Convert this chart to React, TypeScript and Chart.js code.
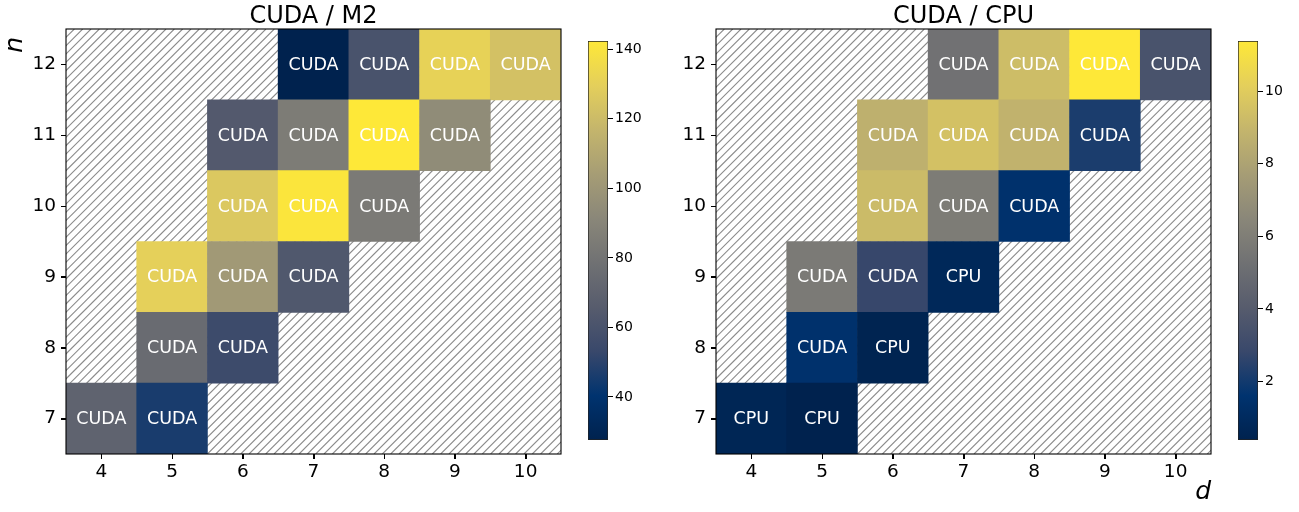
import React, { useEffect, useRef } from 'react';
import { Chart, registerables } from 'chart.js';

Chart.register(...registerables);

// ---- data ----
const dTicks = [4, 5, 6, 7, 8, 9, 10];
const nTicks = [7, 8, 9, 10, 11, 12];

// cell positions (same for both panels)
const cellD = [7, 8, 9, 10, 6, 7, 8, 9, 6, 7, 8, 5, 6, 7, 5, 6, 4, 5];
const cellN = [12, 12, 12, 12, 11, 11, 11, 11, 10, 10, 10, 9, 9, 9, 8, 8, 7, 7];

// CUDA / M2 panel
const m2Values = [27.6, 60, 131, 123, 64, 85, 142.4, 94, 126, 141, 84, 130, 102, 63, 75, 55, 70, 46];
const m2Labels = ['CUDA', 'CUDA', 'CUDA', 'CUDA', 'CUDA', 'CUDA', 'CUDA', 'CUDA', 'CUDA', 'CUDA', 'CUDA', 'CUDA', 'CUDA', 'CUDA', 'CUDA', 'CUDA', 'CUDA', 'CUDA'];
const m2CbarTicks = [40, 60, 80, 100, 120, 140];

// CUDA / CPU panel
const cpuValues = [5.3, 9.3, 11.38, 3.5, 8.7, 9.5, 8.8, 2.2, 9.2, 5.9, 1.5, 5.8, 2.8, 0.8, 1.5, 0.5, 0.65, 0.39];
const cpuLabels = ['CUDA', 'CUDA', 'CUDA', 'CUDA', 'CUDA', 'CUDA', 'CUDA', 'CUDA', 'CUDA', 'CUDA', 'CUDA', 'CUDA', 'CUDA', 'CPU', 'CUDA', 'CPU', 'CPU', 'CPU'];
const cpuCbarTicks = [2, 4, 6, 8, 10];

// ---- style ----
const FONT = 'DejaVu Sans';
const CIVIDIS = ['#00224e', '#00336f', '#39486b', '#575c6d', '#707173', '#8a8779', '#a69d75', '#c4b56c', '#e4cf5b', '#fee838'];

function hexToRgb(h: string) {
  return [parseInt(h.slice(1, 3), 16), parseInt(h.slice(3, 5), 16), parseInt(h.slice(5, 7), 16)];
}
function cividis(t: number) {
  const tt = Math.max(0, Math.min(1, t));
  const s = tt * (CIVIDIS.length - 1);
  const i = Math.min(CIVIDIS.length - 2, Math.floor(s));
  const f = s - i;
  const a = hexToRgb(CIVIDIS[i]);
  const b = hexToRgb(CIVIDIS[i + 1]);
  const c = a.map((v, k) => Math.round(v + (b[k] - v) * f));
  return `rgb(${c[0]},${c[1]},${c[2]})`;
}

type PanelProps = {
  title: string;
  values: number[];
  labels: string[];
  cbarTicks: number[];
  showN: boolean;
  showD: boolean;
  left: number;
  cbarLeft: number;
};

function Panel(p: PanelProps) {
  const heatRef = useRef<HTMLCanvasElement>(null);
  const cbarRef = useRef<HTMLCanvasElement>(null);

  useEffect(() => {
    const vmin = Math.min(...p.values);
    const vmax = Math.max(...p.values);
    const colors = p.values.map((v) => cividis((v - vmin) / (vmax - vmin)));

    const decor = {
      id: 'heatDecor',
      beforeDatasetsDraw(chart: any) {
        const { ctx, chartArea: ca } = chart;
        ctx.save();
        ctx.beginPath();
        ctx.rect(ca.left, ca.top, ca.right - ca.left, ca.bottom - ca.top);
        ctx.clip();
        ctx.fillStyle = '#ffffff';
        ctx.fillRect(ca.left, ca.top, ca.right - ca.left, ca.bottom - ca.top);
        ctx.strokeStyle = '#8c8c8c';
        ctx.lineWidth = 1.1;
        const H = ca.bottom - ca.top;
        const step = 8.33;
        ctx.beginPath();
        for (let x = ca.left - H - step; x < ca.right + step; x += step) {
          ctx.moveTo(x, ca.bottom);
          ctx.lineTo(x + H, ca.top);
        }
        ctx.stroke();
        ctx.restore();
      },
      afterDatasetsDraw(chart: any) {
        const { ctx, chartArea: ca, scales } = chart;
        ctx.save();
        ctx.fillStyle = '#ffffff';
        ctx.font = `17.5px "${FONT}"`;
        ctx.textAlign = 'center';
        ctx.textBaseline = 'middle';
        for (let i = 0; i < cellD.length; i++) {
          ctx.fillText(p.labels[i], scales.x.getPixelForValue(cellD[i]), scales.y.getPixelForValue(cellN[i]) + 1);
        }
        // axis frame
        ctx.strokeStyle = '#000000';
        ctx.lineWidth = 1.1;
        ctx.strokeRect(ca.left, ca.top, ca.right - ca.left, ca.bottom - ca.top);
        // tick marks
        ctx.lineWidth = 1;
        ctx.beginPath();
        dTicks.forEach((v) => {
          const x = Math.round(scales.x.getPixelForValue(v)) + 0.5;
          ctx.moveTo(x, ca.bottom);
          ctx.lineTo(x, ca.bottom + 5);
        });
        nTicks.forEach((v) => {
          const y = Math.round(scales.y.getPixelForValue(v)) + 0.5;
          ctx.moveTo(ca.left, y);
          ctx.lineTo(ca.left - 5, y);
        });
        ctx.stroke();
        // title
        ctx.fillStyle = '#000000';
        ctx.font = `24px "${FONT}"`;
        ctx.textBaseline = 'alphabetic';
        ctx.fillText(p.title, (ca.left + ca.right) / 2, ca.top - 6);
        ctx.restore();
      },
    };

    const heat = new Chart(heatRef.current!, {
      type: 'bar',
      data: {
        datasets: [
          {
            data: cellD.map((d, i) => ({ x: d, y: [cellN[i] - 0.5, cellN[i] + 0.5] })) as any,
            backgroundColor: colors,
            borderWidth: 0,
            categoryPercentage: 1,
            barPercentage: 1,
          },
        ],
      },
      options: {
        responsive: false,
        animation: false,
        events: [],
        layout: { padding: { top: 29, right: 14, bottom: 0, left: 0 } },
        plugins: { legend: { display: false }, tooltip: { enabled: false }, title: { display: false } },
        scales: {
          x: {
            type: 'linear',
            min: 3.5,
            max: 10.5,
            offset: false,
            afterBuildTicks: (s: any) => {
              s.ticks = dTicks.map((v) => ({ value: v }));
            },
            afterFit: (s: any) => {
              s.height = 58;
            },
            grid: { offset: false, drawOnChartArea: false, drawTicks: true, tickLength: 5, tickColor: '#000', tickWidth: 1 },
            border: { display: false },
            ticks: { color: '#000', font: { family: FONT, size: 18.5 }, padding: 2, maxRotation: 0, autoSkip: false },
            title: {
              display: p.showD,
              text: 'd',
              align: 'end',
              color: '#000',
              font: { family: FONT, size: 25, style: 'italic' },
              padding: { top: 0, bottom: 5 },
            },
          },
          y: {
            type: 'linear',
            min: 6.5,
            max: 12.5,
            afterBuildTicks: (s: any) => {
              s.ticks = nTicks.map((v) => ({ value: v }));
            },
            afterFit: (s: any) => {
              s.width = 66;
            },
            grid: { offset: false, drawOnChartArea: false, drawTicks: true, tickLength: 5, tickColor: '#000', tickWidth: 1 },
            border: { display: false },
            ticks: { color: '#000', font: { family: FONT, size: 18.5 }, padding: 5, autoSkip: false },
            title: {
              display: p.showN,
              text: 'n ',
              align: 'end',
              color: '#000',
              font: { family: FONT, size: 25, style: 'italic', lineHeight: 1.2 },
              padding: { top: 0, bottom: 0 },
            },
          },
        },
      },
      plugins: [decor],
    } as any);

    const cbar = new Chart(cbarRef.current!, {
      type: 'bar',
      data: {
        labels: [''],
        datasets: [
          {
            data: [[vmin, vmax]] as any,
            backgroundColor: (c: any) => {
              const ca = c.chart.chartArea;
              if (!ca) return CIVIDIS[0];
              const g = c.chart.ctx.createLinearGradient(0, ca.bottom, 0, ca.top);
              CIVIDIS.forEach((col, i) => g.addColorStop(i / (CIVIDIS.length - 1), col));
              return g;
            },
            borderColor: '#222',
            borderWidth: 1,
            borderSkipped: false,
            categoryPercentage: 1,
            barPercentage: 1,
          },
        ],
      },
      options: {
        responsive: false,
        animation: false,
        events: [],
        layout: { padding: { top: 41, right: 0, bottom: 72, left: 8 } },
        plugins: { legend: { display: false }, tooltip: { enabled: false } },
        scales: {
          x: { display: false },
          y: {
            position: 'right',
            min: vmin,
            max: vmax,
            afterBuildTicks: (s: any) => {
              s.ticks = p.cbarTicks.map((v) => ({ value: v }));
            },
            afterFit: (s: any) => {
              s.width = 42;
            },
            grid: { drawOnChartArea: false, drawTicks: true, tickLength: 5, tickColor: '#000', tickWidth: 1 },
            border: { display: false },
            ticks: { color: '#000', font: { family: FONT, size: 14 }, padding: 2 },
          },
        },
      },
    } as any);

    return () => {
      heat.destroy();
      cbar.destroy();
    };
  }, []);

  return (
    <>
      <canvas
        ref={heatRef}
        width={575}
        height={512}
        style={{ position: 'absolute', left: p.left, top: 0, width: 575, height: 512 }}
      />
      <canvas
        ref={cbarRef}
        width={70}
        height={512}
        style={{ position: 'absolute', left: p.cbarLeft, top: 0, width: 70, height: 512 }}
      />
    </>
  );
}

export default function App() {
  useEffect(() => {
    document.body.style.margin = '0';
  }, []);
  return (
    <div style={{ position: 'relative', width: 1299, height: 512, background: '#fff', overflow: 'hidden' }}>
      <Panel
        title="CUDA / M2"
        values={m2Values}
        labels={m2Labels}
        cbarTicks={m2CbarTicks}
        showN={true}
        showD={false}
        left={0}
        cbarLeft={580}
      />
      <Panel
        title="CUDA / CPU"
        values={cpuValues}
        labels={cpuLabels}
        cbarTicks={cpuCbarTicks}
        showN={false}
        showD={true}
        left={650}
        cbarLeft={1230}
      />
    </div>
  );
}
